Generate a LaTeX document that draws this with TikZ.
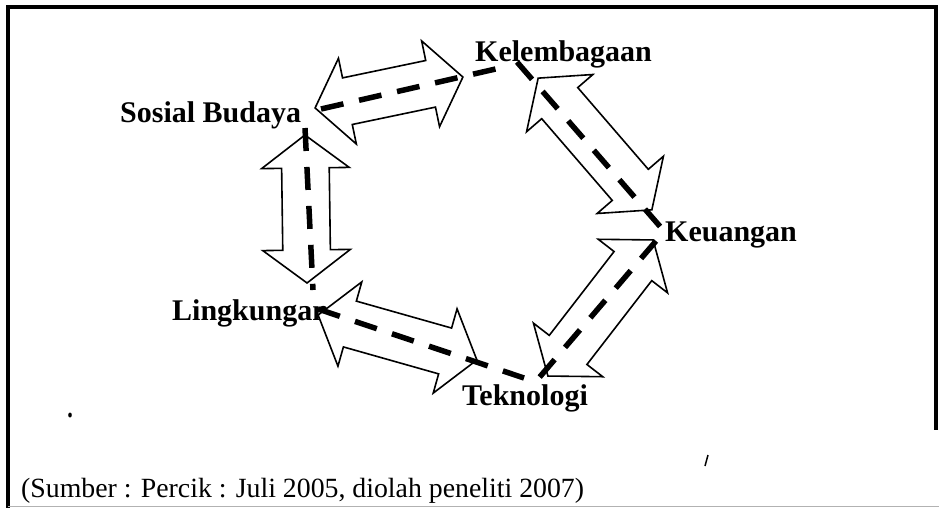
\documentclass[tikz,border=0pt]{standalone}
\usepackage{fontspec}
\setmainfont{Liberation Serif}
\usetikzlibrary{shapes.arrows}

\begin{document}
\begin{tikzpicture}[x=1pt,y=-1pt]
\tikzset{aspek/.style={font=\fontsize{30}{36}\selectfont\bfseries,inner sep=0pt,anchor=base west},
  panah/.style={double arrow,draw,fill=white,line width=1.6pt,inner xsep=0pt,inner ysep=23pt,
    double arrow head extend=20pt,double arrow tip angle=106},
  garis/.style={line width=5.5pt,dash pattern=on 23pt off 16pt}}
\useasboundingbox (0,0) rectangle (939,508);

\draw[line width=4pt] (8,508) -- (8,7) -- (936,7) -- (936,430);
\draw[black!30,line width=0.8pt] (8,506) -- (939,506);

\node[aspek] (sosial) at (120,122) {Sosial Budaya};
\node[aspek] (lembaga) at (475,62) {Kelembagaan};
\node[aspek] (uang) at (665,241) {Keuangan};
\node[aspek] (lingkungan) at (172,320) {Lingkungan};
\node[aspek] (teknologi) at (462,405) {Teknologi};

\node[panah,minimum height=151pt,rotate=11.8] (psl) at (389,92.5) {};
\node[panah,minimum height=174pt,rotate=-49.2] (plu) at (595,144) {};
\node[panah,minimum height=172pt,rotate=52.3] (put) at (600.5,308) {};
\node[panah,minimum height=165pt,rotate=-15.8] (plt) at (397.5,337.5) {};
\node[panah,minimum height=148pt,rotate=90.8] (psk) at (306,209) {};

\coordinate (s1) at (321,109); \coordinate (k1) at (500,68);
\coordinate (k2) at (517,62);  \coordinate (u1) at (664,231);
\coordinate (u2) at (656,241); \coordinate (t1) at (538,379);
\coordinate (l1) at (318,309); \coordinate (t2) at (524,378);
\coordinate (s2) at (305,128); \coordinate (l2) at (313,290);
\draw[garis] (s1) -- (k1);
\draw[garis] (k2) -- (u1);
\draw[garis] (u2) -- (t1);
\draw[garis] (l1) -- (t2);
\draw[garis] (s2) -- (l2);

\node[font=\fontsize{27.8}{33}\selectfont,inner sep=0pt,anchor=base west] (sumber) at (21,497)
  {(Sumber : Percik : Juli 2005, diolah peneliti 2007)};

\fill (70,415) ellipse (1.8 and 2.5);
\draw[line width=1.5pt] (708,455) -- (705,466);
\end{tikzpicture}
\end{document}
